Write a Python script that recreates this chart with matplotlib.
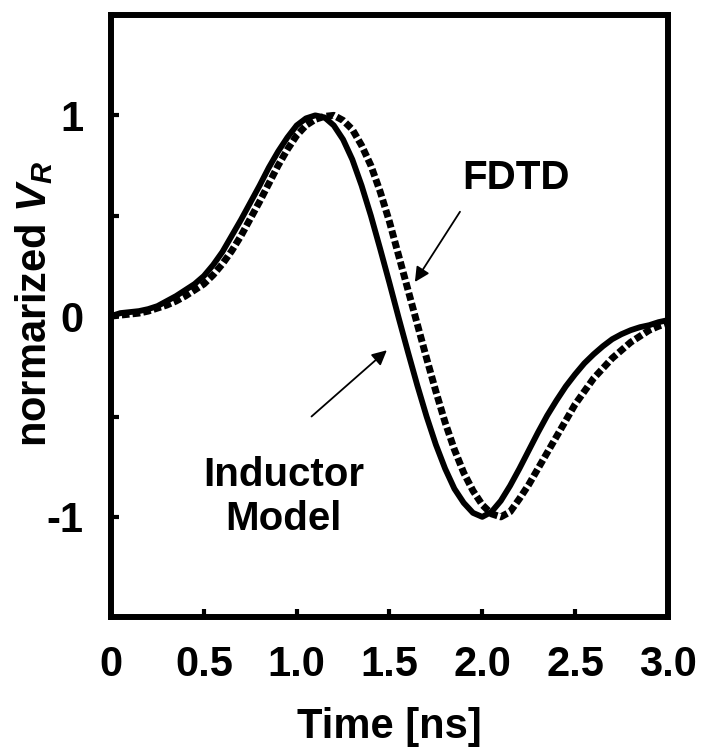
import matplotlib
matplotlib.use("Agg")  # No display
import matplotlib.pyplot as plt  # Plotting
from matplotlib.ticker import FixedLocator  # Tick placement

# Time axis (ns), shared by both curves
time_ns = [0.00, 0.05, 0.10, 0.15, 0.20, 0.25, 0.30, 0.35, 0.40, 0.45,
           0.50, 0.55, 0.60, 0.65, 0.70, 0.75, 0.80, 0.85, 0.90, 0.95,
           1.00, 1.05, 1.10, 1.15, 1.20, 1.25, 1.30, 1.35, 1.40, 1.45,
           1.50, 1.55, 1.60, 1.65, 1.70, 1.75, 1.80, 1.85, 1.90, 1.95,
           2.00, 2.05, 2.10, 2.15, 2.20, 2.25, 2.30, 2.35, 2.40, 2.45,
           2.50, 2.55, 2.60, 2.65, 2.70, 2.75, 2.80, 2.85, 2.90, 2.95,
           3.00]

# Inductor model (solid line)
inductor_vr = [0.0, 0.015, 0.02, 0.025, 0.035, 0.05, 0.075, 0.10, 0.13, 0.16,
               0.20, 0.255, 0.32, 0.40, 0.48, 0.565, 0.65, 0.74, 0.82, 0.89,
               0.95, 0.985, 1.0, 0.99, 0.95, 0.88, 0.78, 0.65, 0.50, 0.335,
               0.165, -0.01, -0.18, -0.345, -0.50, -0.64, -0.76, -0.86, -0.93, -0.98,
               -1.0, -0.975, -0.92, -0.845, -0.76, -0.67, -0.58, -0.495, -0.42, -0.35,
               -0.29, -0.235, -0.19, -0.15, -0.115, -0.09, -0.07, -0.055, -0.045, -0.03,
               -0.02]

# FDTD (dotted line)
fdtd_vr = [0.0, 0.005, 0.01, 0.015, 0.025, 0.04, 0.055, 0.075, 0.10, 0.13,
           0.16, 0.205, 0.26, 0.325, 0.40, 0.485, 0.57, 0.66, 0.75, 0.83,
           0.90, 0.95, 0.98, 0.995, 1.0, 0.975, 0.93, 0.85, 0.75, 0.62,
           0.47, 0.30, 0.13, -0.04, -0.21, -0.375, -0.53, -0.665, -0.78, -0.87,
           -0.94, -0.985, -1.0, -0.975, -0.91, -0.84, -0.76, -0.68, -0.60, -0.52,
           -0.44, -0.375, -0.31, -0.26, -0.21, -0.17, -0.13, -0.10, -0.07, -0.05,
           -0.035]

x_ticks = [0.0, 0.5, 1.0, 1.5, 2.0, 2.5, 3.0]
x_tick_labels = ["0", "0.5", "1.0", "1.5", "2.0", "2.5", "3.0"]
y_ticks = [-1.0, -0.5, 0.0, 0.5, 1.0]
y_tick_labels = ["-1", "", "0", "", "1"]

plt.rcParams["font.family"] = ["Liberation Sans", "DejaVu Sans"]  # Arial-like
plt.rcParams["font.weight"] = "bold"
plt.rcParams["mathtext.fontset"] = "custom"
plt.rcParams["mathtext.rm"] = "Liberation Sans:bold"
plt.rcParams["mathtext.it"] = "Liberation Sans:bold:italic"

fig = plt.figure(figsize=(7.03, 7.5), dpi=100)  # 703x750 px
ax = fig.add_axes([0.158, 0.177, 0.792, 0.803])  # Plot box

ax.plot(time_ns, inductor_vr, color="black", lw=4.2, solid_capstyle="butt",
        solid_joinstyle="round")  # Inductor model
ax.plot(time_ns, fdtd_vr, color="black", lw=5.0, linestyle=(0, (1.1, 0.45)),
        dash_capstyle="butt")  # FDTD

ax.set_xlim(0, 3.0)
ax.set_ylim(-1.5, 1.5)
ax.xaxis.set_major_locator(FixedLocator(x_ticks))
ax.set_xticklabels(x_tick_labels)
ax.yaxis.set_major_locator(FixedLocator(y_ticks))
ax.set_yticklabels(y_tick_labels)
ax.tick_params(direction="in", length=6, width=3, labelsize=30, pad=20)

for spine in ax.spines.values():
    spine.set_linewidth(4.3)  # Thick frame

ax.set_xlabel("Time [ns]", fontsize=30, fontweight="bold", labelpad=16)
ax.set_ylabel(r"normarized $V_R$", fontsize=30, fontweight="bold", labelpad=-6, y=0.52)

# Annotations with arrows
arrow = dict(arrowstyle="-|>", color="black", lw=1.3, mutation_scale=22, shrinkA=0, shrinkB=0)
ax.annotate("", xy=(1.637, 0.17), xytext=(1.88, 0.52), arrowprops=arrow)
ax.text(2.18, 0.69, "FDTD", fontsize=29, fontweight="bold", ha="center", va="center")
ax.annotate("", xy=(1.486, -0.17), xytext=(1.08, -0.50), arrowprops=arrow)
ax.text(0.93, -0.90, "Inductor\nModel", fontsize=29, fontweight="bold",
        ha="center", va="center", linespacing=1.2)

fig.savefig("out.png", dpi=100)  # Save PNG
plt.close(fig)
